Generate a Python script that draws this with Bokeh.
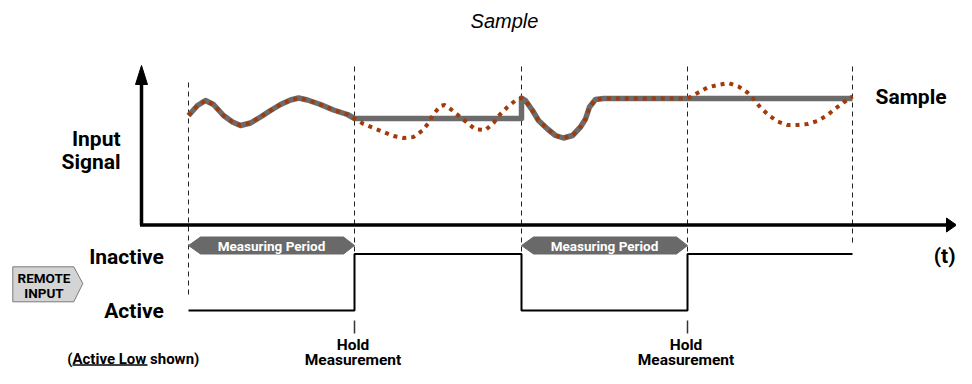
from bokeh.plotting import figure
from bokeh.models import Range1d
from bokeh.core.properties import value
from bokeh.embed import file_html
from bokeh.resources import INLINE

# ---------------- data ----------------
# time instants (x units) of the remote-input transitions
event_t = [188, 354, 521, 687, 852]
measure_start = [188, 521]
measure_end = [354, 687]
hold_t = [354, 687]

# input signal: time and level above the time axis
input_t = [188, 197, 205, 213, 223, 232, 240, 250, 260, 270, 280, 290, 298, 307,
           320, 333, 347, 354, 363, 373, 383, 393, 403, 413, 422, 428, 433, 440,
           444, 450, 458, 467, 475, 485, 493, 499, 507, 515, 521, 525, 532, 538,
           547, 555, 563, 572, 580, 585, 589, 595, 603, 687, 697, 707, 717, 728,
           738, 747, 753, 760, 768, 777, 787, 797, 807, 817, 827, 835, 843, 852]
input_v = [109, 119, 124, 120, 109, 102.5, 99, 101.5, 107.5, 114, 120, 124.5, 126.5, 124.5,
           120, 114.5, 110, 106, 100.5, 96.5, 92.5, 88.5, 86.5, 87.5, 94, 101.5, 110.5, 118.5,
           119.5, 115.5, 109, 101.5, 95, 94.5, 101.5, 109.5, 117.5, 124, 126.5, 124, 114, 104,
           95.5, 89, 86.5, 89, 97.5, 105.5, 117.5, 125, 126, 126, 131.5, 137, 139.5, 141.5,
           138, 132, 125.5, 117, 109.5, 103, 99.5, 99.5, 100.5, 103.5, 109.5, 116, 122, 128]

# remote input states
state_labels = ["Inactive", "Active"]
level_inactive = -29.5
level_active = -86
remote_state = [level_active, level_inactive, level_active, level_inactive, level_inactive]

# ---------------- derived sample & hold output ----------------
def v_at(t):
    return input_v[input_t.index(t)]

sample_t, sample_v = [], []
for s, e in zip(measure_start, measure_end):
    if sample_t:
        sample_t.append(s)
        sample_v.append(sample_v[-1])
    for t, v in zip(input_t, input_v):
        if s <= t <= e:
            sample_t.append(t)
            sample_v.append(v)
sample_t.append(event_t[-1])
sample_v.append(v_at(measure_end[-1]))

# ---------------- figure ----------------
p = figure(width=956, height=368, output_backend="svg", toolbar_location=None,
           x_range=Range1d(0, 956), y_range=Range1d(-144, 224), min_border=0)
p.axis.visible = False
p.grid.visible = False
p.outline_line_color = None
p.background_fill_color = "white"

BOLD = value("Roboto")
SANS = value("Liberation Sans")

# dashed event markers
dash_top = [142, 158, 158, 158, 158]
dash_bot = [-71, level_inactive, level_inactive, level_inactive, -19]
p.segment(x0=event_t, y0=dash_top, x1=event_t, y1=dash_bot,
          line_color="#222222", line_width=1, line_dash="5 4")

# axes with arrow heads
axis_x = 141
p.line([axis_x, axis_x], [-0.5, 142], line_color="black", line_width=3.5)
p.patch([axis_x - 6, axis_x, axis_x + 6], [140, 159, 140], color="black")
p.line([axis_x - 1.5, 948], [-0.5, -0.5], line_color="black", line_width=3.5)
p.patch([946, 956, 946], [6.5, -0.5, -7.5], color="black")

# signals
p.line(sample_t, sample_v, line_color="#6b6b6b", line_width=5.5, line_join="round")
p.line(input_t, input_v, line_color="#a33a0a", line_width=4, line_dash="4 5")

# remote input step
p.step(event_t, remote_state, mode="after", line_color="black", line_width=2)

# hold ticks
p.segment(x0=hold_t, y0=[-96] * 2, x1=hold_t, y1=[-109] * 2,
          line_color="#333333", line_width=1.5)

# measuring period arrows
mp_top, mp_bot, mp_mid = -12.5, level_inactive, -21
xs = [[s, s + 12, e - 11, e, e - 11, s + 12] for s, e in zip(measure_start, measure_end)]
ys = [[mp_mid, mp_top, mp_top, mp_mid, mp_bot, mp_bot] for _ in measure_start]
p.patches(xs, ys, fill_color="#696969", line_color="#696969", line_width=1)

MID = "middle"
p.text(x=[(s + e) / 2 for s, e in zip(measure_start, measure_end)], y=[-21] * 2,
       text=["Measuring Period"] * 2, text_align="center", text_baseline=MID,
       text_color="white", text_font=BOLD, text_font_style="bold", text_font_size="13.5px")

# remote input box
p.patch([12.3, 73.3, 82.3, 73.3, 12.3], [-42.3, -42.3, -59, -77.3, -77.3],
        fill_color="#d4d4d4", line_color="#7a7a7a", line_width=1)
p.text(x=[43.5, 43.5], y=[-53.5, -68.5], text=["REMOTE", "INPUT"], text_align="center",
       text_baseline=MID, text_color="black", text_font=BOLD,
       text_font_style="bold", text_font_size="13.5px")

# labels
p.text(x=[120, 120], y=[85.6, 63], text=["Input", "Signal"], text_align="right",
       text_baseline=MID, text_font=BOLD, text_font_style="bold",
       text_font_size="21px", text_color="black")
p.text(x=[163.3, 163.3], y=[-32.7, -86], text=state_labels, text_align="right",
       text_baseline=MID, text_font=BOLD, text_font_style="bold",
       text_font_size="21px", text_color="black")
p.text(x=[875], y=[127.5], text=["Sample"], text_align="left", text_baseline=MID,
       text_font=BOLD, text_font_style="bold", text_font_size="21px", text_color="black")
p.text(x=[955], y=[-31], text=["(t)"], text_align="right", text_baseline=MID,
       text_font=BOLD, text_font_style="bold", text_font_size="21px", text_color="black")
p.text(x=[t - 1.5 for t in hold_t] * 2, y=[-120.5] * 2 + [-135] * 2,
       text=["Hold"] * 2 + ["Measurement"] * 2, text_align="center",
       text_baseline=MID, text_font=BOLD, text_font_style="bold",
       text_font_size="15.5px", text_color="black")
p.text(x=[66.7], y=[-134.5], text=["(Active Low shown)"], text_align="left",
       text_baseline=MID, text_font=BOLD, text_font_style="bold",
       text_font_size="15px", text_color="black")
p.line([72, 147], [-140.5, -140.5], line_color="black", line_width=1.5)

# title
p.text(x=[504], y=[204], text=["Sample"], text_align="center", text_baseline=MID,
       text_font=SANS, text_font_style="italic", text_font_size="20px", text_color="black")

open("out.html", "w").write(file_html(p, INLINE))
